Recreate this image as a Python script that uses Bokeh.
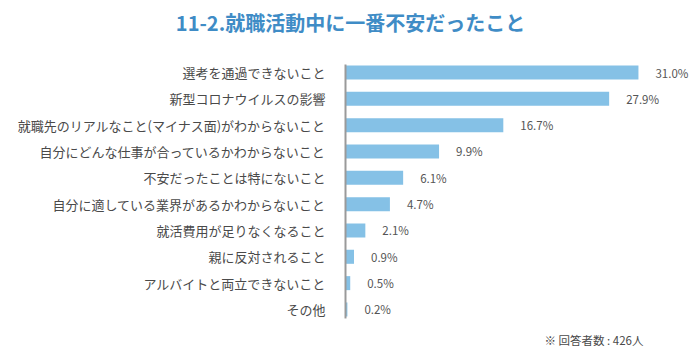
from bokeh.plotting import figure
from bokeh.models import Range1d, ColumnDataSource, Label
from bokeh.core.properties import value
from bokeh.embed import file_html
from bokeh.resources import INLINE

title_text = "11-2.就職活動中に一番不安だったこと"
categories = [
    "選考を通過できないこと",
    "新型コロナウイルスの影響",
    "就職先のリアルなこと(マイナス面)がわからないこと",
    "自分にどんな仕事が合っているかわからないこと",
    "不安だったことは特にないこと",
    "自分に適している業界があるかわからないこと",
    "就活費用が足りなくなること",
    "親に反対されること",
    "アルバイトと両立できないこと",
    "その他",
]
values = [31.0, 27.9, 16.7, 9.9, 6.1, 4.7, 2.1, 0.9, 0.5, 0.2]
value_labels = ["31.0%", "27.9%", "16.7%", "9.9%", "6.1%", "4.7%", "2.1%", "0.9%", "0.5%", "0.2%"]
note_text = "※ 回答者数 : 426人"

W, H = 700, 350
px_per_unit = 9.45
axis_px = 345
row_px = 26.33
first_row_px = 72

n = len(categories)
ypos = [n - 1 - i for i in range(n)]
bottom_row_px = first_row_px + row_px * (n - 1)

x0 = -axis_px / px_per_unit
x1 = (W - axis_px) / px_per_unit
y_top = bottom_row_px / row_px
y_bot = -(H - bottom_row_px) / row_px

p = figure(width=W, height=H, output_backend="svg", toolbar_location=None,
           x_range=Range1d(x0, x1), y_range=Range1d(y_bot, y_top),
           min_border=0, min_border_left=0, min_border_right=0,
           min_border_top=0, min_border_bottom=0)
p.axis.visible = False
p.grid.visible = False
p.outline_line_color = None
p.background_fill_color = "white"
p.border_fill_color = "white"

src = ColumnDataSource(dict(y=ypos, v=values, cat=categories, lab=value_labels,
                            zero=[0] * n))

p.hbar(y="y", left=0, right="v", height=14 / row_px, source=src,
       fill_color="#85c1e6", line_color=None)

p.segment(x0=[0], x1=[0], y0=[-9 / row_px], y1=[(bottom_row_px - 64) / row_px],
          line_color="#9a9a9a", line_width=2)

p.text(x="zero", y="y", text="cat", source=src, x_offset=-20,
       text_align="right", text_baseline="middle",
       text_font=value("Noto Sans CJK JP"), text_font_size="13px",
       text_color="#4a4a4a")

p.text(x="v", y="y", text="lab", source=src, x_offset=17,
       text_align="left", text_baseline="middle",
       text_font=value("Noto Sans CJK JP"), text_font_size="11.5px",
       text_color="#555555")

p.add_layout(Label(x=(x0 + x1) / 2, y=y_top - 22 / row_px, text=title_text,
                   text_align="center", text_baseline="middle",
                   text_font="Noto Sans CJK JP", text_font_size="20px",
                   text_font_style="bold", text_color="#3f8cc6"))

p.add_layout(Label(x=(643 - axis_px) / px_per_unit, y=y_bot + 11 / row_px, text=note_text,
                   text_align="right", text_baseline="middle",
                   text_font="Noto Sans CJK JP", text_font_size="11.5px",
                   text_color="#4a4a4a"))

open("out.html", "w").write(file_html(p, INLINE))
